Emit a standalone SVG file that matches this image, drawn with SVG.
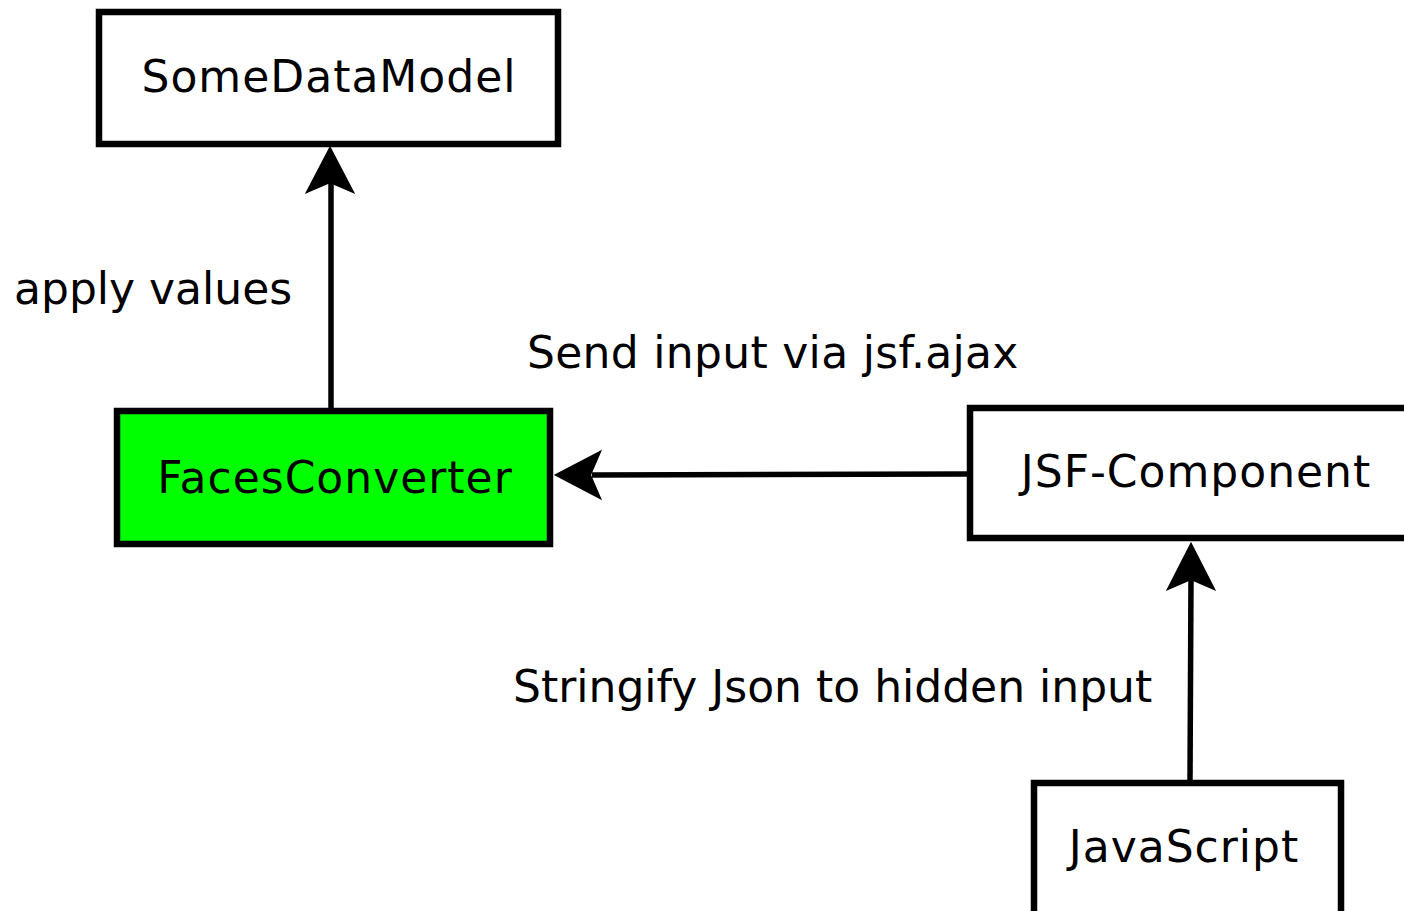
<svg xmlns="http://www.w3.org/2000/svg" width="1404" height="911" viewBox="0 0 1404 911">
  <style>
    .box { fill: #ffffff; stroke: #000000; stroke-width: 6.5; }
    .green { fill: #00ff00; }
    .lbl { font-family: "DejaVu Sans", "Liberation Sans", sans-serif; font-size: 44px; fill: #000000; }
    .mid { text-anchor: middle; letter-spacing: 1px; }
    .edge { stroke: #000000; stroke-width: 5.5; fill: none; }
    .head { fill: #000000; stroke: #000000; stroke-width: 2; stroke-linejoin: miter; }
  </style>
  <rect width="1404" height="911" fill="#ffffff"/>

  <g id="connectors">
    <!-- FacesConverter -> SomeDataModel -->
    <g id="edge-apply">
      <line class="edge" x1="331" y1="408" x2="331" y2="182"/>
      <path class="head" d="M330,148 L307,192 L330,182 L353,192 Z"/>
    </g>
    <!-- JSF-Component -> FacesConverter -->
    <g id="edge-send">
      <line class="edge" x1="968" y1="474" x2="592" y2="475"/>
      <path class="head" d="M556,475 L600,452 L590,475 L600,498 Z"/>
    </g>
    <!-- JavaScript -> JSF-Component -->
    <g id="edge-stringify">
      <line class="edge" x1="1190" y1="781" x2="1191" y2="578"/>
      <path class="head" d="M1191,544 L1168,589 L1191,579 L1214,589 Z"/>
    </g>
    <text class="lbl" x="14" y="304">apply values</text>
    <text class="lbl" x="527" y="368" letter-spacing="0.3">Send input via jsf.ajax</text>
    <text class="lbl" x="513" y="702">Stringify Json to hidden input</text>
  </g>

  <g id="node-somedatamodel">
    <rect class="box" x="99" y="12" width="459" height="132"/>
    <text class="lbl mid" x="329" y="92">SomeDataModel</text>
  </g>

  <g id="node-facesconverter">
    <rect class="box green" x="117" y="411" width="433" height="133"/>
    <text class="lbl mid" x="335" y="493">FacesConverter</text>
  </g>

  <g id="node-jsf-component">
    <rect class="box" x="970" y="408" width="450" height="130"/>
    <text class="lbl mid" x="1196" y="487">JSF-Component</text>
  </g>

  <g id="node-javascript">
    <rect class="box" x="1034" y="783" width="307" height="150"/>
    <text class="lbl mid" x="1184" y="862">JavaScript</text>
  </g>
</svg>
